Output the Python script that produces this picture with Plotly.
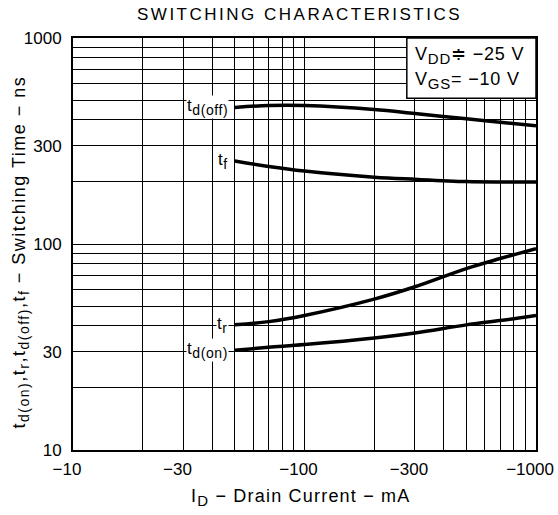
import math
import plotly.graph_objects as go

# Drain current magnitude (mA); axis labels carry the minus sign
id_mA = [50, 70, 100, 200, 300, 500, 700, 1000]
t_doff = [460, 470, 470, 450, 430, 405, 390, 375]
t_f = [253, 238, 226, 211, 206, 201, 200, 200]
t_r = [40.5, 42, 45, 54, 62, 76, 85, 95]
t_don = [30.5, 31.5, 32.5, 35, 37, 40.5, 42.5, 45]

x_tickvals = [10, 30, 100, 300, 1000]
x_ticktext = ["\u221210", "\u221230", "\u2212100", "\u2212300", "\u22121000"]
y_tickvals = [10, 30, 100, 300, 1000]
y_ticktext = ["10", "30", "100", "300", "1000"]
minor_vals = [m * d for d in (10, 100) for m in range(1, 10)] + [1000]

FONT = "Liberation Sans"


def sub(s, size=14):
    return f'<sub><span style="font-size:{size}px">{s}</span></sub>'


def spaced(s, px):
    return f'<span style="letter-spacing:{px}px">{s}</span>'


fig = go.Figure()
series = [
    ("t" + sub("d(off)"), t_doff),
    ("t" + sub("f"), t_f),
    ("t" + sub("r"), t_r),
    ("t" + sub("d(on)"), t_don),
]
for name, ys in series:
    fig.add_trace(go.Scatter(x=id_mA, y=ys, mode="lines",
                             line=dict(color="black", width=3.5, shape="spline"),
                             showlegend=False, hoverinfo="skip"))
    fig.add_annotation(x=math.log10(id_mA[0]), y=math.log10(ys[0]), xref="x", yref="y",
                       text=spaced(name, 0.6), showarrow=False, xanchor="right",
                       yanchor="middle", xshift=-6,
                       font=dict(family=FONT, size=17, color="black"),
                       bgcolor="white", borderpad=0)

axis_common = dict(type="log", showline=True, linecolor="black", linewidth=2,
                   mirror=True, ticks="", showgrid=True, gridcolor="black",
                   gridwidth=1, zeroline=False, automargin=False,
                   tickfont=dict(family=FONT, size=17, color="black"),
                   minor=dict(tickvals=minor_vals, showgrid=True,
                              gridcolor="black", gridwidth=1, ticks=""))

fig.update_xaxes(range=[1, 3], tickmode="array", tickvals=x_tickvals,
                 ticktext=x_ticktext, ticklabelstandoff=3, ticklabelshift=-6,
                 ticklabeloverflow="allow", **axis_common)
fig.update_yaxes(range=[1, 3], tickmode="array", tickvals=y_tickvals,
                 ticktext=y_ticktext, ticklabelstandoff=6, **axis_common)

# condition box
fig.add_shape(type="rect", xref="paper", yref="paper", x0=0.721, x1=1.0,
              y0=0.854, y1=1.0, fillcolor="white",
              line=dict(color="black", width=1.5), layer="above")
fig.add_annotation(xref="paper", yref="paper", x=0.735, y=0.958, xanchor="left",
                   yanchor="middle", showarrow=False,
                   text=spaced("V" + sub("DD", 15) + "\u2251 \u221225 V", 0.8),
                   font=dict(family=FONT, size=18, color="black"))
fig.add_annotation(xref="paper", yref="paper", x=0.735, y=0.898, xanchor="left",
                   yanchor="middle", showarrow=False,
                   text=spaced("V" + sub("GS", 15) + "= \u221210 V", 0.8),
                   font=dict(family=FONT, size=18, color="black"))

# titles
fig.add_annotation(xref="paper", yref="paper", x=0.49, y=1.058, showarrow=False,
                   text=spaced("SWITCHING CHARACTERISTICS", 2.5),
                   xanchor="center", yanchor="middle",
                   font=dict(family=FONT, size=17, color="black"))
fig.add_annotation(xref="paper", yref="paper", x=0.492, y=-0.115, showarrow=False,
                   text=spaced("I" + sub("D", 15) + " \u2212 Drain Current \u2212 mA", 1.2),
                   xanchor="center", yanchor="middle",
                   font=dict(family=FONT, size=18, color="black"))
fig.add_annotation(xref="paper", yref="paper", x=-0.114, y=0.48, showarrow=False,
                   text=spaced("t" + sub("d(on)") + ",t" + sub("r") + ",t" + sub("d(off)")
                               + ",t" + sub("f") + " \u2212 Switching Time \u2212 ns", 1.5),
                   textangle=-90, xanchor="center", yanchor="middle",
                   font=dict(family=FONT, size=18, color="black"))

fig.update_layout(width=558, height=515, paper_bgcolor="white", plot_bgcolor="white",
                  margin=dict(l=73, r=22, t=38, b=65), hovermode=False)

fig.write_html("out.html", config={"displayModeBar": False, "staticPlot": True},
               post_script="document.body.style.margin='0';document.body.style.overflow='hidden';")
